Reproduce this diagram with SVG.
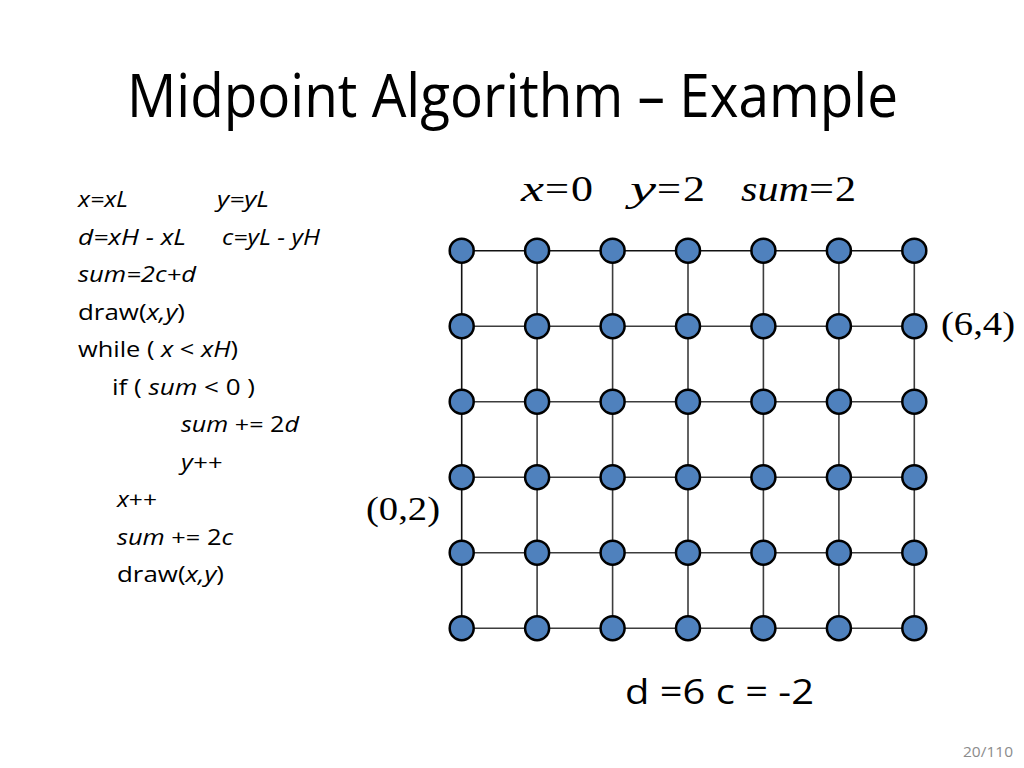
<svg xmlns="http://www.w3.org/2000/svg" width="1024" height="768" viewBox="0 0 1024 768">
<style>
.title{font-family:"Open Sans","Liberation Sans",sans-serif;font-size:61px;fill:#000}
.code{font-family:"Open Sans","Liberation Sans",sans-serif;font-size:22.5px;fill:#000}
.it{font-style:italic}
.math{font-family:"Liberation Serif","Times New Roman",serif;font-size:36px;fill:#000}
.coord{font-family:"Liberation Serif","Times New Roman",serif;font-size:34px;fill:#000}
.big{font-family:"Open Sans","Liberation Sans",sans-serif;font-size:34px;fill:#000}
.pg{font-family:"Open Sans","Liberation Sans",sans-serif;font-size:15px;fill:#8c8c8c}
.gl{stroke:#3c3c3c;stroke-width:1.6;fill:none}
.nd{fill:#4f81bd;stroke:#000;stroke-width:2.5}
</style>
<rect width="1024" height="768" fill="#fff"/>
<text class="title" x="127" y="117" textLength="771" lengthAdjust="spacingAndGlyphs">Midpoint Algorithm – Example</text>

<g id="code">
<text class="code it" x="78" y="207" textLength="50" lengthAdjust="spacingAndGlyphs">x=xL</text>
<text class="code it" x="217" y="207" textLength="52" lengthAdjust="spacingAndGlyphs">y=yL</text>
<text class="code it" x="78" y="245" textLength="108" lengthAdjust="spacingAndGlyphs">d=xH - xL</text>
<text class="code it" x="222" y="245" textLength="98" lengthAdjust="spacingAndGlyphs">c=yL - yH</text>
<text class="code it" x="78" y="282" textLength="118" lengthAdjust="spacingAndGlyphs">sum=2c+d</text>
<text class="code" x="78" y="320" textLength="107" lengthAdjust="spacingAndGlyphs">draw(<tspan class="it">x,y</tspan>)</text>
<text class="code" x="78" y="357" textLength="160" lengthAdjust="spacingAndGlyphs">while ( <tspan class="it">x</tspan> &lt; <tspan class="it">xH</tspan>)</text>
<text class="code" x="112" y="395" textLength="143" lengthAdjust="spacingAndGlyphs">if ( <tspan class="it">sum</tspan> &lt; 0 )</text>
<text class="code" x="181" y="432" textLength="118" lengthAdjust="spacingAndGlyphs"><tspan class="it">sum</tspan> += 2<tspan class="it">d</tspan></text>
<text class="code it" x="181" y="470" textLength="41" lengthAdjust="spacingAndGlyphs">y++</text>
<text class="code" x="117" y="507" textLength="40" lengthAdjust="spacingAndGlyphs"><tspan class="it">x</tspan>++</text>
<text class="code" x="117" y="545" textLength="116" lengthAdjust="spacingAndGlyphs"><tspan class="it">sum</tspan> += 2<tspan class="it">c</tspan></text>
<text class="code" x="117" y="582" textLength="107" lengthAdjust="spacingAndGlyphs">draw(<tspan class="it">x,y</tspan>)</text>
</g>

<g id="labels">
<text class="math it" x="521" y="201" textLength="23" lengthAdjust="spacingAndGlyphs">x</text>
<text class="math" x="545" y="201" textLength="24" lengthAdjust="spacingAndGlyphs">=</text>
<text class="math" x="571" y="201" textLength="22" lengthAdjust="spacingAndGlyphs">0</text>
<text class="math it" x="630" y="201" textLength="26" lengthAdjust="spacingAndGlyphs">y</text>
<text class="math" x="657" y="201" textLength="24" lengthAdjust="spacingAndGlyphs">=</text>
<text class="math" x="683" y="201" textLength="22" lengthAdjust="spacingAndGlyphs">2</text>
<text class="math it" x="741" y="201" textLength="68" lengthAdjust="spacingAndGlyphs">sum</text>
<text class="math" x="809" y="201" textLength="25" lengthAdjust="spacingAndGlyphs">=</text>
<text class="math" x="835" y="201" textLength="21" lengthAdjust="spacingAndGlyphs">2</text>
<text class="coord" x="941" y="335" textLength="74" lengthAdjust="spacingAndGlyphs">(6,4)</text>
<text class="coord" x="366" y="520" textLength="74" lengthAdjust="spacingAndGlyphs">(0,2)</text>
<text class="big" x="625" y="704" textLength="189" lengthAdjust="spacingAndGlyphs">d =6 c = -2</text>
<text class="pg" x="963" y="757" textLength="50" lengthAdjust="spacingAndGlyphs">20/110</text>
</g>

<g id="connectors">
<line class="gl" x1="461.7" y1="250.7" x2="914.3" y2="250.7" style="stroke:#111"/>
<line class="gl" x1="461.7" y1="326.2" x2="914.3" y2="326.2"/>
<line class="gl" x1="461.7" y1="401.7" x2="914.3" y2="401.7"/>
<line class="gl" x1="461.7" y1="477.2" x2="914.3" y2="477.2"/>
<line class="gl" x1="461.7" y1="552.7" x2="914.3" y2="552.7"/>
<line class="gl" x1="461.7" y1="628.2" x2="914.3" y2="628.2"/>
<line class="gl" x1="461.7" y1="250.7" x2="461.7" y2="628.2" style="stroke:#111"/>
<line class="gl" x1="537.1" y1="250.7" x2="537.1" y2="628.2"/>
<line class="gl" x1="612.6" y1="250.7" x2="612.6" y2="628.2"/>
<line class="gl" x1="688.0" y1="250.7" x2="688.0" y2="628.2"/>
<line class="gl" x1="763.4" y1="250.7" x2="763.4" y2="628.2"/>
<line class="gl" x1="838.9" y1="250.7" x2="838.9" y2="628.2"/>
<line class="gl" x1="914.3" y1="250.7" x2="914.3" y2="628.2"/>
</g>

<g id="nodes">
<g id="n0_5"><circle class="nd" cx="461.7" cy="250.7" r="12"/></g>
<g id="n1_5"><circle class="nd" cx="537.1" cy="250.7" r="12"/></g>
<g id="n2_5"><circle class="nd" cx="612.6" cy="250.7" r="12"/></g>
<g id="n3_5"><circle class="nd" cx="688.0" cy="250.7" r="12"/></g>
<g id="n4_5"><circle class="nd" cx="763.4" cy="250.7" r="12"/></g>
<g id="n5_5"><circle class="nd" cx="838.9" cy="250.7" r="12"/></g>
<g id="n6_5"><circle class="nd" cx="914.3" cy="250.7" r="12"/></g>
<g id="n0_4"><circle class="nd" cx="461.7" cy="326.2" r="12"/></g>
<g id="n1_4"><circle class="nd" cx="537.1" cy="326.2" r="12"/></g>
<g id="n2_4"><circle class="nd" cx="612.6" cy="326.2" r="12"/></g>
<g id="n3_4"><circle class="nd" cx="688.0" cy="326.2" r="12"/></g>
<g id="n4_4"><circle class="nd" cx="763.4" cy="326.2" r="12"/></g>
<g id="n5_4"><circle class="nd" cx="838.9" cy="326.2" r="12"/></g>
<g id="n6_4"><circle class="nd" cx="914.3" cy="326.2" r="12"/></g>
<g id="n0_3"><circle class="nd" cx="461.7" cy="401.7" r="12"/></g>
<g id="n1_3"><circle class="nd" cx="537.1" cy="401.7" r="12"/></g>
<g id="n2_3"><circle class="nd" cx="612.6" cy="401.7" r="12"/></g>
<g id="n3_3"><circle class="nd" cx="688.0" cy="401.7" r="12"/></g>
<g id="n4_3"><circle class="nd" cx="763.4" cy="401.7" r="12"/></g>
<g id="n5_3"><circle class="nd" cx="838.9" cy="401.7" r="12"/></g>
<g id="n6_3"><circle class="nd" cx="914.3" cy="401.7" r="12"/></g>
<g id="n0_2"><circle class="nd" cx="461.7" cy="477.2" r="12"/></g>
<g id="n1_2"><circle class="nd" cx="537.1" cy="477.2" r="12"/></g>
<g id="n2_2"><circle class="nd" cx="612.6" cy="477.2" r="12"/></g>
<g id="n3_2"><circle class="nd" cx="688.0" cy="477.2" r="12"/></g>
<g id="n4_2"><circle class="nd" cx="763.4" cy="477.2" r="12"/></g>
<g id="n5_2"><circle class="nd" cx="838.9" cy="477.2" r="12"/></g>
<g id="n6_2"><circle class="nd" cx="914.3" cy="477.2" r="12"/></g>
<g id="n0_1"><circle class="nd" cx="461.7" cy="552.7" r="12"/></g>
<g id="n1_1"><circle class="nd" cx="537.1" cy="552.7" r="12"/></g>
<g id="n2_1"><circle class="nd" cx="612.6" cy="552.7" r="12"/></g>
<g id="n3_1"><circle class="nd" cx="688.0" cy="552.7" r="12"/></g>
<g id="n4_1"><circle class="nd" cx="763.4" cy="552.7" r="12"/></g>
<g id="n5_1"><circle class="nd" cx="838.9" cy="552.7" r="12"/></g>
<g id="n6_1"><circle class="nd" cx="914.3" cy="552.7" r="12"/></g>
<g id="n0_0"><circle class="nd" cx="461.7" cy="628.2" r="12"/></g>
<g id="n1_0"><circle class="nd" cx="537.1" cy="628.2" r="12"/></g>
<g id="n2_0"><circle class="nd" cx="612.6" cy="628.2" r="12"/></g>
<g id="n3_0"><circle class="nd" cx="688.0" cy="628.2" r="12"/></g>
<g id="n4_0"><circle class="nd" cx="763.4" cy="628.2" r="12"/></g>
<g id="n5_0"><circle class="nd" cx="838.9" cy="628.2" r="12"/></g>
<g id="n6_0"><circle class="nd" cx="914.3" cy="628.2" r="12"/></g>
</g>
</svg>
